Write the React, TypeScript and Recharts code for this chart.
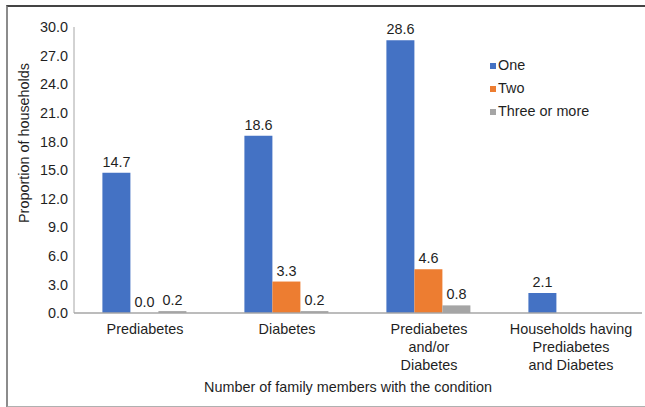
import React from "react"
import { Bar, BarChart, LabelList, XAxis, YAxis } from "recharts"

const categories = [
  "Prediabetes",
  "Diabetes",
  "Prediabetes\nand/or\nDiabetes",
  "Households having\nPrediabetes\nand Diabetes",
]
const one = [14.7, 18.6, 28.6, 2.1]
const two = [0.0, 3.3, 4.6, null]
const threeOrMore = [0.2, 0.2, 0.8, null]
const yTicks = [0, 3, 6, 9, 12, 15, 18, 21, 24, 27, 30]

const series = [
  { key: "one", name: "One", color: "#4472C4" },
  { key: "two", name: "Two", color: "#ED7D31" },
  { key: "three", name: "Three or more", color: "#A5A5A5" },
]

const data = categories.map((name, i) => ({
  name,
  one: one[i],
  two: two[i],
  three: threeOrMore[i],
}))

const FONT = "'Liberation Sans', Arial, sans-serif"
const TEXT = "#1f1f1f"

function CategoryTick(props: any) {
  const { x, y, payload } = props
  const lines = String(payload.value).split("\n")
  return (
    <text x={x} y={y} textAnchor="middle" fill={TEXT} fontSize={14.4} fontFamily={FONT}>
      {lines.map((line, i) => (
        <tspan key={i} x={x} dy={i === 0 ? 13 : 18}>
          {line}
        </tspan>
      ))}
    </text>
  )
}

function ValueLabel(props: any) {
  const { x, y, width, value } = props
  if (value === null || value === undefined) return null
  return (
    <text x={x + width / 2} y={y - 6} textAnchor="middle" fill={TEXT} fontSize={14.4} fontFamily={FONT}>
      {Number(value).toFixed(1)}
    </text>
  )
}

function LegendBox() {
  return (
    <div style={{ position: "absolute", left: 490, top: 53, fontFamily: FONT, fontSize: 14.4, color: TEXT }}>
      {series.map((s) => (
        <div key={s.key} style={{ display: "flex", alignItems: "center", height: 23 }}>
          <span style={{ width: 6, height: 6, background: s.color, marginRight: 2, marginTop: 3 }} />
          <span>{s.name}</span>
        </div>
      ))}
    </div>
  )
}

export default function App() {
  return (
    <div style={{ position: "absolute", left: 0, top: 0, width: 645, height: 407, background: "#fff" }}>
      <div
        style={{
          position: "absolute",
          left: 6,
          top: 5,
          width: 645,
          height: 399,
          borderTop: "2px solid #444",
          borderLeft: "2px solid #8c8c8c",
          borderBottom: "2px solid #b0b0b0",
        }}
      />
      <BarChart
        width={645}
        height={407}
        data={data}
        margin={{ top: 27, right: 3, bottom: 0, left: 0 }}
        barCategoryGap="20%"
        barGap={0}
        style={{ position: "absolute", left: 0, top: 0 }}
      >
        <XAxis
          dataKey="name"
          height={94}
          interval={0}
          tickLine={false}
          axisLine={{ stroke: "#a6a6a6", strokeWidth: 1.5 }}
          tick={<CategoryTick />}
          label={{
            content: (p: any) => (
              <text
                x={p.viewBox.x + p.viewBox.width / 2 - 10}
                y={p.viewBox.y + 79}
                textAnchor="middle"
                fill={TEXT}
                fontSize={14.4}
                fontFamily={FONT}
              >
                Number of family members with the condition
              </text>
            ),
          }}
        />
        <YAxis
          width={74}
          domain={[0, 30]}
          ticks={yTicks}
          interval={0}
          tickLine={false}
          tickSize={6}
          tickMargin={0}
          axisLine={{ stroke: "#a6a6a6", strokeWidth: 1 }}
          tickFormatter={(v: number) => v.toFixed(1)}
          tick={{ fill: TEXT, fontSize: 14.4, fontFamily: FONT }}
          label={{
            content: () => (
              <text
                x={29}
                y={143}
                transform="rotate(-90 29 143)"
                textAnchor="middle"
                fill={TEXT}
                fontSize={14.4}
                fontFamily={FONT}
              >
                Proportion of households
              </text>
            ),
          }}
        />
        {series.map((s) => (
          <Bar
            key={s.key}
            dataKey={s.key}
            name={s.name}
            fill={s.color}
            minPointSize={0.01}
            isAnimationActive={false}
          >
            <LabelList dataKey={s.key} content={<ValueLabel />} />
          </Bar>
        ))}
      </BarChart>
      <LegendBox />
    </div>
  )
}
